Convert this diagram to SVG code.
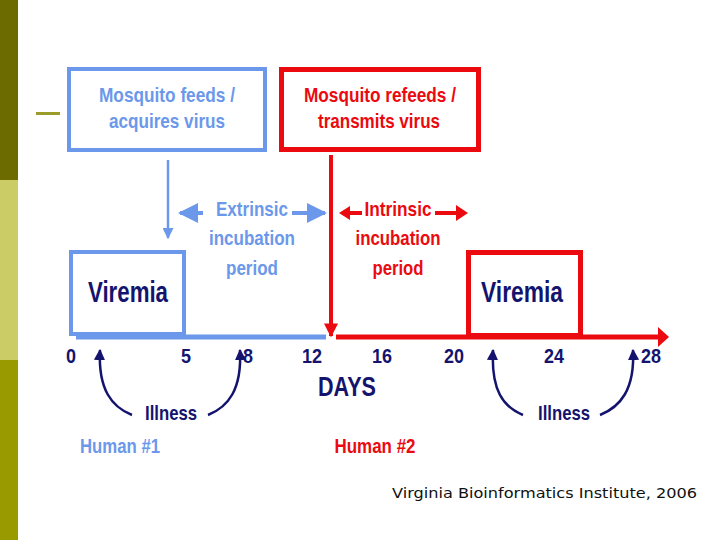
<svg xmlns="http://www.w3.org/2000/svg" width="720" height="540" viewBox="0 0 720 540">
<style>
.t{font-family:"Liberation Sans",Arial,sans-serif;font-weight:bold;text-anchor:middle}
.b{fill:#6b98ea}.r{fill:#ea0a0f}.n{fill:#14146e}
.box{fill:#fff}
</style>
<defs>
<marker id="ab" viewBox="0 0 10 10" refX="9" refY="5" markerWidth="4.4" markerHeight="4.4" orient="auto" markerUnits="strokeWidth"><path d="M0,0L10,5L0,10z" fill="#6b98ea"/></marker>
<marker id="ab2" viewBox="0 0 10 10" refX="9" refY="5" markerWidth="5" markerHeight="5" orient="auto" markerUnits="strokeWidth"><path d="M0,0L10,5L0,10z" fill="#6b98ea"/></marker>
<marker id="ar" viewBox="0 0 10 10" refX="9" refY="5" markerWidth="3.5" markerHeight="3.5" orient="auto" markerUnits="strokeWidth"><path d="M0,0L10,5L0,10z" fill="#ea0a0f"/></marker>
<marker id="an" viewBox="0 0 10 10" refX="9" refY="5" markerWidth="4.5" markerHeight="4.5" orient="auto" markerUnits="strokeWidth"><path d="M0,0L10,5L0,10z" fill="#14146e"/></marker>
</defs>
<rect width="720" height="540" fill="#fff"/>
<g id="sidebar">
<rect x="0" y="0" width="18" height="180" fill="#6b6b00"/>
<rect x="0" y="180" width="18" height="180" fill="#cccc66"/>
<rect x="0" y="360" width="18" height="180" fill="#999900"/>
<rect x="36" y="112" width="24" height="3" fill="#9c9c2a"/>
</g>
<g id="connectors" fill="none">
<line x1="168" y1="160" x2="168" y2="238" stroke="#6b98ea" stroke-width="2.5" marker-end="url(#ab)"/>
<line x1="203" y1="213" x2="180" y2="213" stroke="#6b98ea" stroke-width="4" marker-end="url(#ab2)"/>
<line x1="292" y1="213" x2="325" y2="213" stroke="#6b98ea" stroke-width="4" marker-end="url(#ab2)"/>
<line x1="331" y1="155" x2="331" y2="336" stroke="#ea0a0f" stroke-width="4" marker-end="url(#ar)"/>
<line x1="362" y1="213" x2="348" y2="213" stroke="#ea0a0f" stroke-width="4"/>
<path d="M339,213 L350,206 L350,220z" fill="#ea0a0f"/>
<line x1="435" y1="213" x2="457" y2="213" stroke="#ea0a0f" stroke-width="4"/>
<path d="M468,213 L456,205 L456,221z" fill="#ea0a0f"/>
<line x1="76" y1="337" x2="326" y2="337" stroke="#6b98ea" stroke-width="5"/>
<line x1="336" y1="337" x2="660" y2="337" stroke="#ea0a0f" stroke-width="5"/>
<path d="M669,337 L658,327 L658,347z" fill="#ea0a0f"/>
<path d="M132,415 C112,407 98,390 100,350" stroke="#14146e" stroke-width="2.5" marker-end="url(#an)"/>
<path d="M208,415 C228,407 242,390 240,350" stroke="#14146e" stroke-width="2.5" marker-end="url(#an)"/>
<path d="M523,415 C503,407 491,390 493,350" stroke="#14146e" stroke-width="2.5" marker-end="url(#an)"/>
<path d="M600,415 C620,407 635,390 633,350" stroke="#14146e" stroke-width="2.5" marker-end="url(#an)"/>
</g>
<g id="feeds">
<rect x="69" y="69" width="196" height="81" class="box" stroke="#6b98ea" stroke-width="4"/>
<text class="t b" x="167" y="102" font-size="21" textLength="136" lengthAdjust="spacingAndGlyphs">Mosquito feeds /</text>
<text class="t b" x="167" y="128" font-size="21" textLength="116" lengthAdjust="spacingAndGlyphs">acquires virus</text>
</g>
<g id="refeeds">
<rect x="281.5" y="69.5" width="197" height="80" class="box" stroke="#ea0a0f" stroke-width="5"/>
<text class="t r" x="380" y="102" font-size="21" textLength="152" lengthAdjust="spacingAndGlyphs">Mosquito refeeds /</text>
<text class="t r" x="379" y="128" font-size="21" textLength="122" lengthAdjust="spacingAndGlyphs">transmits virus</text>
</g>
<g id="extrinsic">
<text class="t b" x="252" y="216" font-size="21" textLength="72" lengthAdjust="spacingAndGlyphs">Extrinsic</text>
<text class="t b" x="252" y="245" font-size="21" textLength="86" lengthAdjust="spacingAndGlyphs">incubation</text>
<text class="t b" x="252" y="275" font-size="21" textLength="52" lengthAdjust="spacingAndGlyphs">period</text>
</g>
<g id="intrinsic">
<text class="t r" x="398" y="216" font-size="21" textLength="67" lengthAdjust="spacingAndGlyphs">Intrinsic</text>
<text class="t r" x="398" y="245" font-size="21" textLength="85" lengthAdjust="spacingAndGlyphs">incubation</text>
<text class="t r" x="398" y="275" font-size="21" textLength="51" lengthAdjust="spacingAndGlyphs">period</text>
</g>
<g id="viremia1">
<rect x="71" y="252" width="113" height="82" class="box" stroke="#6b98ea" stroke-width="4"/>
<text class="t n" x="128" y="302" font-size="29" textLength="80" lengthAdjust="spacingAndGlyphs">Viremia</text>
</g>
<g id="viremia2">
<rect x="468.5" y="252.5" width="112" height="83" class="box" stroke="#ea0a0f" stroke-width="5"/>
<text class="t n" x="522" y="302" font-size="29" textLength="82" lengthAdjust="spacingAndGlyphs">Viremia</text>
</g>
<g id="ticks">
<text class="t n" x="71" y="363" font-size="20" textLength="10" lengthAdjust="spacingAndGlyphs">0</text>
<text class="t n" x="186" y="363" font-size="20" textLength="10" lengthAdjust="spacingAndGlyphs">5</text>
<text class="t n" x="248" y="363" font-size="20" textLength="10" lengthAdjust="spacingAndGlyphs">8</text>
<text class="t n" x="312" y="363" font-size="20" textLength="20" lengthAdjust="spacingAndGlyphs">12</text>
<text class="t n" x="382" y="363" font-size="20" textLength="20" lengthAdjust="spacingAndGlyphs">16</text>
<text class="t n" x="454" y="363" font-size="20" textLength="20" lengthAdjust="spacingAndGlyphs">20</text>
<text class="t n" x="554" y="363" font-size="20" textLength="20" lengthAdjust="spacingAndGlyphs">24</text>
<text class="t n" x="651" y="363" font-size="20" textLength="20" lengthAdjust="spacingAndGlyphs">28</text>
</g>
<g id="days">
<text class="t n" x="347" y="396" font-size="28" textLength="58" lengthAdjust="spacingAndGlyphs">DAYS</text>
</g>
<g id="illness1"><text class="t n" x="171" y="420" font-size="21" textLength="52" lengthAdjust="spacingAndGlyphs">Illness</text></g>
<g id="illness2"><text class="t n" x="564" y="420" font-size="21" textLength="52" lengthAdjust="spacingAndGlyphs">Illness</text></g>
<g id="human1"><text class="t b" x="120" y="453" font-size="21" textLength="80" lengthAdjust="spacingAndGlyphs">Human #1</text></g>
<g id="human2"><text class="t r" x="375" y="453" font-size="21" textLength="81" lengthAdjust="spacingAndGlyphs">Human #2</text></g>
<g id="credit"><text x="392" y="498" font-family="DejaVu Sans,Verdana,sans-serif" font-size="14" fill="#111" textLength="305" lengthAdjust="spacingAndGlyphs">Virginia Bioinformatics Institute, 2006</text></g>
</svg>
